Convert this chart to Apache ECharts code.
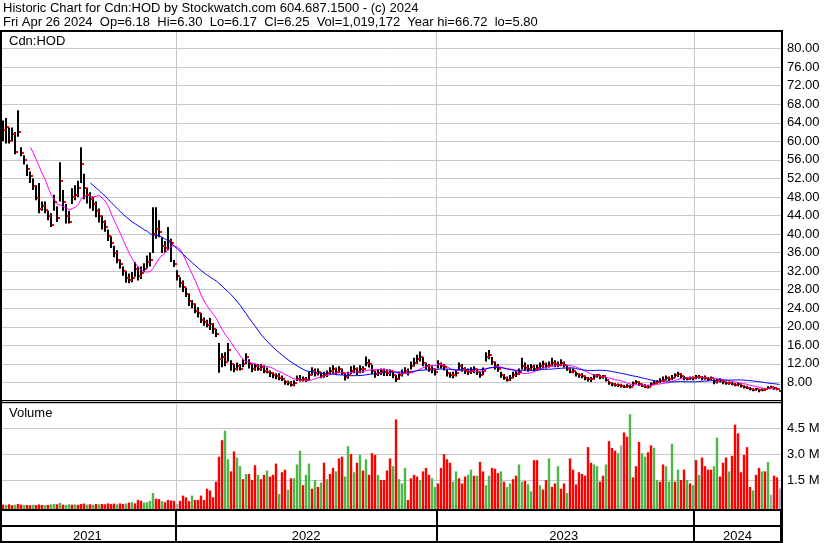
<!DOCTYPE html>
<html><head><meta charset="utf-8">
<script src="https://cdn.jsdelivr.net/npm/echarts@6.0.0/dist/echarts.min.js"></script>
<style>html,body{margin:0;padding:0;background:#fff}#c{width:830px;height:543px}</style>
</head><body><div id="c"></div>
<script>
// ---- data (one sample per 3 trading days, May 2021 – Apr 26 2024) ----
const closeP = [
 62.5,63,60,61.5,57.6,62,57.5,56,54,52.5,50.3,47.7,45.5,46,45.1,44,42,47,43.5,51.5,
 47,44,42.6,48,48.5,50,55,50,48.5,47.5,46.5,45,44,42.5,41.5,39.5,38,36,34.5,33.5,
 32,30.5,30,30.5,32.5,31,31.5,32.5,34,34.5,40,41,40.5,37.5,37,38.5,38,33.5,31,29.5,
 28.5,27,25.5,25,23.5,23,21.5,21,20.3,20.5,19.5,18.5,13,13.5,12.5,15,12,11,11.5,11,
 12,13.5,12,11,11.5,11,11.3,10.5,10.2,10,9.5,9.3,9,8.7,8,7.8,7.5,7.8,8.8,8.5,
 8.8,8.6,9.5,10.5,10,10.2,9.3,9.6,10,10.5,10.8,10.2,10.8,10,9.2,9.6,10.5,10.8,10.3,11,
 10.8,12.3,12,10.5,9.8,10,10.4,10.2,10,10.4,9.5,8.8,9.5,10,10.5,10.2,11.5,12.3,13,13.5,
 12.3,11.5,11,10.8,10.2,12,11.5,11.4,10,9.5,9.5,10,11.5,11,10.5,10.3,10.5,10.8,10.3,9.5,
 10.5,13.5,14,12.5,11.5,11,9.6,9,8.6,8.9,9.5,9.8,10.3,11.5,11.2,11,11.3,11,11.2,11.5,
 12,11.5,11.8,12.2,12,11.8,12.2,11.8,11,10.3,10.5,9.8,9.5,9.3,9,8.8,8.7,9.3,9.5,9.2,
 9.3,8.6,7.9,7.6,7.5,7.4,7.3,7.1,7.2,7,7.8,8.1,7.7,7.3,7.1,7,7.6,7.9,8.1,8.3,
 8.6,8.9,8.7,9,9.5,9.8,9.4,8.9,8.8,9,8.9,9.1,9.2,8.9,9,8.7,8.9,8,8.3,8.4,
 8,7.8,7.9,7.7,7.5,7.6,7.2,7,6.9,6.6,6.4,6.5,6.3,6.4,6.5,6.9,7,6.7,6.5,6.25
];
const highP = [
 64.5,65,63,63,62,66.7,58.7,57,55,53.5,52,50.5,51,47,47,45,44.5,48.5,46,55.5,
 49.5,46.5,45,49.9,50.5,51.5,58.7,53,50,49,48,47,45.5,44,43,41,39.5,37.5,36.5,34.5,
 33,32,31.5,31.8,34,33,33,33.7,35.4,36,45.8,45.8,43,39.3,38.5,41.5,39,34.4,32.2,30.7,
 30,28.5,27.2,25.8,25,24.2,23,22,21.5,21.9,20.8,19.5,16.5,14.3,14.5,16.5,12.8,12,12.3,12,
 13,14.3,13,12.1,12,12,12,11.7,11.2,10.6,10.2,10,10,9.5,8.5,8.4,8.3,8.5,9.5,9.6,
 9.3,9.2,10.3,11.3,11,11,10.2,10.3,10.6,11.3,11.7,11.2,11.5,11,10,10.3,11.5,11.7,11.2,11.7,
 11.5,13.6,13,11.8,10.6,10.8,11,11,10.8,10.8,10.3,9.6,10.2,10.8,11.3,11,12.5,13.3,14,14.7,
 13.5,12.3,12,11.5,11,12.8,12.3,12,10.8,10.2,10.3,10.6,12.3,12,11.3,11,11.3,11.5,11,10.3,
 11.2,14.5,15,13.5,12.5,12,10.3,9.8,9.3,9.6,10.3,10.5,11,13.3,12.3,11.8,12,11.8,11.8,12.3,
 12.7,12.3,12.5,13.3,12.8,12.5,13,12.5,11.7,11.2,11,10.3,10,10,9.5,9.2,9.2,9.8,9.8,9.6,
 9.6,9.2,8.3,8,7.9,7.8,7.7,7.5,7.6,7.5,8.2,8.5,8.2,7.8,7.6,7.5,8,8.3,8.5,8.9,
 9.3,9.5,9.3,9.6,10,10.3,10,9.4,9.2,9.3,9.3,9.6,9.6,9.4,9.5,9.1,9.3,8.7,8.8,8.9,
 8.4,8.2,8.2,8.1,7.9,8,7.6,7.4,7.3,7,6.8,6.8,6.6,6.7,6.8,7.2,7.3,7,6.8,6.3
];
const lowP = [
 60,59.5,59.5,60,57.2,61,56.8,55,52.5,51,49.5,47.3,44.5,45,44.5,43,41.5,45,42.6,47,
 45,42.3,42.3,46.5,47.3,48,51,47.5,46.6,45.5,45,43.6,42.5,41,40.5,38.5,37,35,33.7,32.5,
 31,29.5,29.4,29.6,30.8,30,30.3,31.8,32.6,33,35.9,39,39.3,35.9,36,36.5,34,32.9,30,28.5,
 27.5,26.4,24.5,24,22.9,22,20.8,20.2,19.9,19.3,18.5,17.8,10.1,11.3,11.5,12.5,10.5,10.2,10.6,10.6,
 11.3,12,11,10.2,10.5,10.5,10.5,10,10,9.2,8.9,8.7,8.5,8.3,7.5,7.4,7.1,7.2,8.3,8.2,
 8.2,8.1,8.5,9.5,9.3,9.5,8.9,9,9.2,9.8,10,9.6,10,9.6,8.4,8.8,9.8,10,9.6,10,
 10.1,11.5,11.2,9.8,9,9.4,9.6,9.4,9.4,9.4,8.9,8.1,8.6,9.3,9.8,9.5,10.8,11.5,12,12.5,
 11.5,10.8,10.3,10,9.5,11,11,10.6,9.3,9,8.9,9.3,10.6,10.3,9.8,9.6,9.8,10,9.6,9,
 9.6,12.5,13,11.8,10.8,10.3,9,8.6,8.2,8.3,8.9,9.2,9.6,10.8,10.6,10.3,10.6,10.4,10.6,10.8,
 11,11,11.2,11.5,11.3,11.3,11.5,11.2,10.5,10,10,9.3,9,8.9,8.5,8.2,8.1,8.6,9,8.7,
 8.8,8.2,7.5,7.2,7.1,7,6.9,6.8,6.8,6.7,7.2,7.6,7.3,7,6.8,6.7,7.2,7.5,7.7,7.9,
 8.2,8.4,8.3,8.5,9,9.2,8.9,8.5,8.5,8.6,8.5,8.7,8.8,8.5,8.6,8.3,8.5,7.6,7.8,8,
 7.6,7.5,7.5,7.4,7.2,7.2,6.9,6.7,6.6,6.3,6.1,6.2,5.9,6.1,6.2,6.6,6.7,6.4,6.3,6.17
];
// volume in millions of shares
const volM = [
 0.08,0.06,0.1,0.05,0.07,0.12,0.08,0.05,0.06,0.04,0.07,0.05,0.09,0.06,0.05,0.06,0.1,0.12,0.1,0.18,
 0.08,0.06,0.1,0.08,0.09,0.07,0.12,0.14,0.08,0.1,0.07,0.12,0.1,0.12,0.1,0.15,0.12,0.14,0.1,0.15,
 0.12,0.14,0.2,0.22,0.15,0.35,0.3,0.2,0.22,0.3,0.75,0.42,0.4,0.28,0.22,0.35,0.32,0.3,0.12,0.3,
 0.6,0.5,0.28,0.6,0.35,0.35,0.6,0.35,1.0,0.9,0.5,1.4,2.85,3.8,4.35,2.7,2.0,3.15,2.8,2.3,
 1.55,1.85,1.85,1.5,2.35,1.8,1.55,1.8,2.05,1.7,1.8,2.45,0.7,1.95,2.1,0.95,1.6,1.6,2.4,3.2,
 1.2,1.8,2.45,1.0,1.5,1.1,1.35,2.5,1.55,1.85,2.2,2.0,2.75,2.85,1.7,3.45,3.0,1.95,2.5,2.95,
 2.05,2.7,1.8,3.05,2.95,1.8,1.5,1.5,2.05,2.75,2.3,5.0,1.55,1.3,2.2,0.35,1.6,1.8,1.7,1.5,
 2.0,2.2,1.8,1.6,1.1,1.3,2.2,3.0,2.7,2.5,1.4,2.0,1.6,1.3,1.7,1.8,2.1,1.75,1.75,2.55,
 2.0,1.2,1.75,2.2,2.15,1.9,2.0,1.4,1.1,1.3,1.55,1.75,2.4,1.4,1.45,1.25,0.85,2.65,2.65,1.2,
 0.95,1.5,2.75,1.1,1.3,2.3,1.0,1.3,0.75,2.75,2.1,1.25,1.95,1.85,1.75,3.4,2.5,2.4,2.3,1.4,
 1.75,2.4,3.75,3.35,3.2,3.05,3.5,4.25,4.0,5.3,1.65,2.3,3.7,3.05,2.85,3.1,3.5,3.35,1.5,1.4,
 2.4,2.3,1.4,3.6,1.4,2.1,1.5,2.1,1.5,1.3,1.2,2.65,1.8,2.8,2.3,2.1,2.1,2.3,3.95,1.7,
 2.5,2.8,2.0,2.9,4.7,4.2,1.95,2.95,3.4,1.1,0.9,1.8,2.2,2.0,2.0,2.55,0.65,1.75,1.65,1.02
];
// volume bar direction: u = up (green), d = down (red), n = unchanged (grey)
const volDir = (
 "d u d d u d d u d d u d d d u d u u d u " +
 "d u u d u d d d u d u d u d d d d d u d " +
 "d u d u d d d u u u u d d u d d d d n d " +
 "d d d u d d d d d d d d d d u u d d u u " +
 "d u d d d u d d u d d d u d d u d u u u " +
 "d u u d u d u d u d d u d d u u d u d u " +
 "d u d d d u d d d d u d u u u d d d d u " +
 "d d d u u d d d d d u u d d d u u d u d " +
 "d u u d d d u d u u d d u u d u u d d u " +
 "d d u d d u d d u d d d d d d d d u u d " +
 "d u d d d u n d d u d d d u u d d u u d " +
 "d u u u d u d d u d u d u d d d d u u d " +
 "d d u d d d d d d d u d d u d u n d d n").trim().split(/\s+/);
const yearLabels = ['2021', '2022', '2023', '2024'];
const volTickLabels = [1.5, 3.0, 4.5];
const headerLine1 = 'Historic Chart for Cdn:HOD by Stockwatch.com 604.687.1500 - (c) 2024';
const headerLine2 = 'Fri Apr 26 2024  Op=6.18  Hi=6.30  Lo=6.17  Cl=6.25  Vol=1,019,172  Year hi=66.72  lo=5.80';
const symbolLabel = 'Cdn:HOD';
const volumeLabel = 'Volume';

// ---- sample dates: every 3rd weekday ending Apr 26 2024 ----
const dates = [];
(function () {
  const all = [];
  const d = new Date(Date.UTC(2021, 4, 3));
  const end = Date.UTC(2024, 3, 26);
  while (d.getTime() <= end) {
    const wd = d.getUTCDay();
    if (wd !== 0 && wd !== 6) all.push(d.toISOString().slice(0, 10));
    d.setUTCDate(d.getUTCDate() + 1);
  }
  for (let k = all.length - 1; k >= 0 && dates.length < closeP.length; k -= 3) dates.unshift(all[k]);
})();
const N = Math.min(dates.length, closeP.length, highP.length, lowP.length, volM.length);

const yearStart = new Set();
const segs = [];
for (let i = 0; i < N; i++) {
  const y = dates[i].slice(0, 4);
  if (i === 0 || y !== dates[i - 1].slice(0, 4)) {
    if (i > 0) yearStart.add(i);
    segs.push({ y: y, s: i });
  }
}
segs.forEach((s, k) => { s.e = k < segs.length - 1 ? segs[k + 1].s - 1 : N - 1; });
const yearMid = new Map(segs.map((s, k) => [Math.floor((s.s + s.e) / 2), yearLabels[k] || s.y]));

function movingAvg(arr, n) {
  const out = [];
  for (let i = 0; i < arr.length; i++) {
    if (i < n - 1) { out.push('-'); continue; }
    let s = 0;
    for (let k = i - n + 1; k <= i; k++) s += arr[k];
    out.push(+(s / n).toFixed(3));
  }
  return out;
}
const cats = dates.slice(0, N);
const closeN = closeP.slice(0, N);
const ma10 = movingAvg(closeN, 10);
const ma30 = movingAvg(closeN, 30);
const ohlcData = closeN.map((c, i) => [i, lowP[i], highP[i], c]);
const closeData = closeN.map((c, i) => [i, c]);
const volData = volM.slice(0, N).map((v, i) => [i, v]);

const FONT = 'Arial, "Liberation Sans", sans-serif';
const GRID = '#c8c8c8';

function renderBar(params, api) {
  const i = api.value(0);
  const pLo = api.coord([i, api.value(1)]);
  const pHi = api.coord([i, api.value(2)]);
  const x = Math.round(pHi[0]);
  return { type: 'rect', shape: { x: x - 1, y: pHi[1], width: 2, height: Math.max(1.5, pLo[1] - pHi[1]) }, style: { fill: '#000' } };
}
function renderClose(params, api) {
  const i = api.value(0);
  const p = api.coord([i, api.value(1)]);
  const x = Math.round(p[0]);
  return { type: 'rect', shape: { x: x + 1, y: Math.round(p[1]) - 1, width: 2, height: 2 }, style: { fill: '#ff0000' } };
}
function renderVol(params, api) {
  const i = api.value(0);
  const top = api.coord([i, api.value(1)]);
  const base = api.coord([i, 0]);
  const d = volDir[i];
  const col = d === 'u' ? '#4db848' : (d === 'd' ? '#ff0000' : '#a9a9a9');
  return { type: 'rect', shape: { x: Math.round(top[0]) - 1.2, y: top[1], width: 2.4, height: base[1] - top[1] + 3 }, style: { fill: col } };
}

const yearSplit = (idx) => yearStart.has(idx);
const rect = (x, y, w, h) => ({ type: 'rect', silent: true, z: 100, shape: { x: x, y: y, width: w, height: h }, style: { fill: '#000' } });
const txt = (x, y, t) => ({ type: 'text', silent: true, z: 101, x: x, y: y, style: { text: t, font: '13px ' + FONT, fill: '#000', align: 'left', verticalAlign: 'top' } });

const option = {
  animation: false,
  backgroundColor: '#fff',
  grid: [
    { left: 2, right: 49, top: 30, height: 371 },
    { left: 2, right: 49, top: 403, height: 103 },
    { left: 2, right: 49, top: 510, height: 17 }
  ],
  xAxis: [
    { type: 'category', gridIndex: 0, data: cats, boundaryGap: true, axisLine: { show: false }, axisTick: { show: false }, axisLabel: { show: false },
      splitLine: { show: true, interval: yearSplit, lineStyle: { color: GRID, width: 1 } } },
    { type: 'category', gridIndex: 1, data: cats, boundaryGap: true, axisLine: { show: false }, axisTick: { show: false }, axisLabel: { show: false },
      splitLine: { show: true, interval: yearSplit, lineStyle: { color: GRID, width: 1 } } },
    { type: 'category', gridIndex: 2, data: cats, boundaryGap: true,
      axisLine: { show: true, lineStyle: { color: '#000', width: 2 } },
      axisTick: { show: true, interval: yearSplit, length: 16, inside: false, lineStyle: { color: '#000', width: 2 } },
      axisLabel: { show: true, interval: (idx) => yearMid.has(idx), formatter: (v, idx) => yearMid.get(idx) || '', fontFamily: FONT, fontSize: 13, color: '#000', margin: 4 },
      splitLine: { show: true, interval: yearSplit, lineStyle: { color: '#000', width: 2 } } }
  ],
  yAxis: [
    { type: 'value', gridIndex: 0, position: 'right', min: 4, max: 84, interval: 4,
      axisLine: { show: false }, axisTick: { show: false },
      axisLabel: { formatter: (v) => v.toFixed(2), showMinLabel: false, showMaxLabel: false, margin: 6, fontFamily: FONT, fontSize: 13, color: '#000' },
      splitLine: { show: true, lineStyle: { color: GRID, width: 1 } } },
    { type: 'value', gridIndex: 1, position: 'right', min: 0, max: 5.95, interval: 1.5,
      axisLine: { show: false }, axisTick: { show: false },
      axisLabel: { formatter: (v) => volTickLabels.indexOf(v) >= 0 ? v.toFixed(1) + ' M' : '', showMinLabel: false, showMaxLabel: false, margin: 6, fontFamily: FONT, fontSize: 13, color: '#000' },
      splitLine: { show: true, lineStyle: { color: GRID, width: 1 } } },
    { type: 'value', gridIndex: 2, show: false, min: 0, max: 1 }
  ],
  series: [
    { type: 'custom', name: 'Range', xAxisIndex: 0, yAxisIndex: 0, data: ohlcData, encode: { x: 0, y: [1, 2] }, renderItem: renderBar, clip: true, silent: true, z: 2 },
    { type: 'line', name: 'MA short', xAxisIndex: 0, yAxisIndex: 0, data: ma10, symbol: 'none', silent: true, lineStyle: { color: '#ff00ff', width: 1 }, z: 3 },
    { type: 'line', name: 'MA long', xAxisIndex: 0, yAxisIndex: 0, data: ma30, symbol: 'none', silent: true, lineStyle: { color: '#0000ff', width: 1 }, z: 3 },
    { type: 'custom', name: 'Close', xAxisIndex: 0, yAxisIndex: 0, data: closeData, encode: { x: 0, y: 1 }, renderItem: renderClose, clip: true, silent: true, z: 4 },
    { type: 'custom', name: 'Volume', xAxisIndex: 1, yAxisIndex: 1, data: volData, encode: { x: 0, y: 1 }, renderItem: renderVol, clip: false, silent: true }
  ],
  graphic: [
    txt(3, 2, headerLine1),
    txt(3, 16, headerLine2),
    txt(9, 35, symbolLabel),
    txt(9, 407, volumeLabel),
    rect(0, 30, 783, 2),
    rect(0, 30, 2, 513),
    rect(781, 30, 2, 513),
    rect(0, 400, 783, 1),
    rect(0, 402, 783, 1),
    rect(0, 509, 783, 2),
    rect(0, 541, 783, 2)
  ]
};
const chart = echarts.init(document.getElementById('c'), null, { renderer: 'canvas', width: 830, height: 543 });
chart.setOption(option);
</script>
</body></html>
